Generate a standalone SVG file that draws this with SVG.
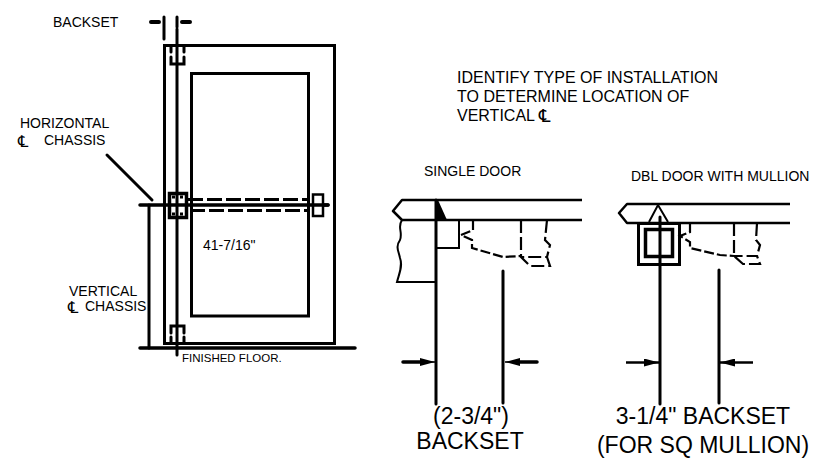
<svg xmlns="http://www.w3.org/2000/svg" width="822" height="466" viewBox="0 0 822 466">
<defs>
<style>
text{font-family:"Liberation Sans",Arial,sans-serif;fill:#000;font-size:14px}
.big{font-size:23px;text-anchor:middle}
.note{font-size:16px}
.cl{font-family:"DejaVu Sans",sans-serif;font-size:16px}
.l{fill:none;stroke:#000;stroke-width:3;stroke-linecap:round}
.t{fill:none;stroke:#000;stroke-width:2}
.m{fill:none;stroke:#000;stroke-width:2.500;stroke-linejoin:round}
.d{fill:none;stroke:#000;stroke-width:2.200;stroke-dasharray:13 4}
.s{fill:none;stroke:#000;stroke-width:2.200;stroke-dasharray:10 3}
.h{fill:none;stroke:#000;stroke-width:3;stroke-dasharray:15 4}
</style>
<marker id="ah" markerUnits="userSpaceOnUse" markerWidth="16" markerHeight="8" refX="15" refY="4" orient="auto"><path d="M0 0L15 4L0 8Z" fill="#000"/></marker>
</defs>
<rect width="822" height="466" fill="#fff"/>
<g id="door-elevation">
<rect x="164.500" y="45.500" width="170" height="298" class="l"/>
<rect x="191.500" y="73.500" width="117" height="242.500" class="l"/>
<path class="l" d="M177 29V355M164 17V39M177 17V27"/>
<path d="M151 22H159M182 22H190" stroke="#000" stroke-width="4" stroke-linecap="round"/>
<path class="l" d="M171 47V52M184 47V52M171 57V64H184V57"/>
<path class="l" d="M171 342V337M184 342V337M171 333V326H184V333"/>
<path class="l" d="M149 205V348"/>
<path d="M140 205H328M140 348H355" stroke="#000" stroke-width="3.500" stroke-linecap="round"/>
</g>
<g id="chassis">
<rect x="169.500" y="193.500" width="17" height="24" fill="none" stroke="#000" stroke-width="3.500"/>
<path d="M172 197h3M180 197h3M172 214h3M180 214h3" stroke="#000" stroke-width="3"/>
<path class="h" d="M188 199.500H310M190 210.500H310"/>
<rect x="313" y="194.500" width="10" height="21.500" fill="#fff" stroke="#000" stroke-width="2.500"/>
<path d="M313 205H328" stroke="#000" stroke-width="3.500" stroke-linecap="round"/>
</g>
<g id="connectors">
<path class="l" d="M107 155L152 200"/>
<path class="l" d="M436 200V404M503 271V403M660 217V404M719 270V403"/>
<path d="M403 362H420M520 362H537" stroke="#000" stroke-width="3.500" stroke-linecap="round" fill="none"/>
<path d="M420 362H435" stroke="#000" stroke-width="1.500" marker-end="url(#ah)"/>
<path d="M520 362H505" stroke="#000" stroke-width="1.500" marker-end="url(#ah)"/>
<path d="M626 362.500H659" stroke="#000" stroke-width="2.500" marker-end="url(#ah)"/>
<path d="M753 362.500H720" stroke="#000" stroke-width="2.500" marker-end="url(#ah)"/>
</g>
<g id="single-door">
<path class="m" d="M582 200H402L393 211L402 220H582"/>
<path class="t" d="M402 220C397 227 403 232 400 240C395 247 399 252 400 258C403 266 399 274 397 282H435"/>
<path d="M436 200H438L447 220H436Z" fill="#000"/>
<path class="t" d="M436 248H459V220"/>
<path class="s" d="M473 220V230L461 235L472 240V248L503 257L521 256"/>
<path class="d" d="M521 220V257L530 266H550L547 257H521M547 220L545 240L550 245L547 257"/>
</g>
<g id="double-door">
<path class="m" d="M790 204H627L619 213L627 223H790"/>
<path class="t" d="M649 222L658 205L668 222"/>
<rect x="638.500" y="223.500" width="41" height="41" fill="none" stroke="#000" stroke-width="3"/>
<rect x="645.500" y="229.500" width="27" height="27" fill="none" stroke="#000" stroke-width="3.500"/>
<path class="s" d="M690 223V232L680 236L690 242V248L720 255L734 256"/>
<path class="d" d="M734 223V256L743 264H760L757 256H734M757 223L756 240L760 245L757 256"/>
</g>
<g id="labels">
<text x="53" y="27">BACKSET</text>
<text x="20" y="128">HORIZONTAL</text>
<text class="cl" x="18" y="147">℄</text>
<text x="44" y="145">CHASSIS</text>
<text x="69" y="296">VERTICAL</text>
<text class="cl" x="68" y="313">℄</text>
<text x="85" y="311">CHASSIS</text>
<text x="203" y="250">41-7/16"</text>
<text x="182" y="362" style="font-size:11.500px">FINISHED FLOOR.</text>
<text class="note" x="457" y="83">IDENTIFY TYPE OF INSTALLATION</text>
<text class="note" x="457" y="102">TO DETERMINE LOCATION OF</text>
<text class="note" x="457" y="121">VERTICAL</text>
<text class="cl" x="539" y="122" style="font-size:18px">℄</text>
<text x="424" y="176">SINGLE DOOR</text>
<text x="631" y="181">DBL DOOR WITH MULLION</text>
<text class="big" x="471" y="424">(2-3/4")</text>
<text class="big" x="470" y="449">BACKSET</text>
<text class="big" x="703" y="424">3-1/4" BACKSET</text>
<text class="big" x="703" y="453">(FOR SQ MULLION)</text>
</g>
</svg>
